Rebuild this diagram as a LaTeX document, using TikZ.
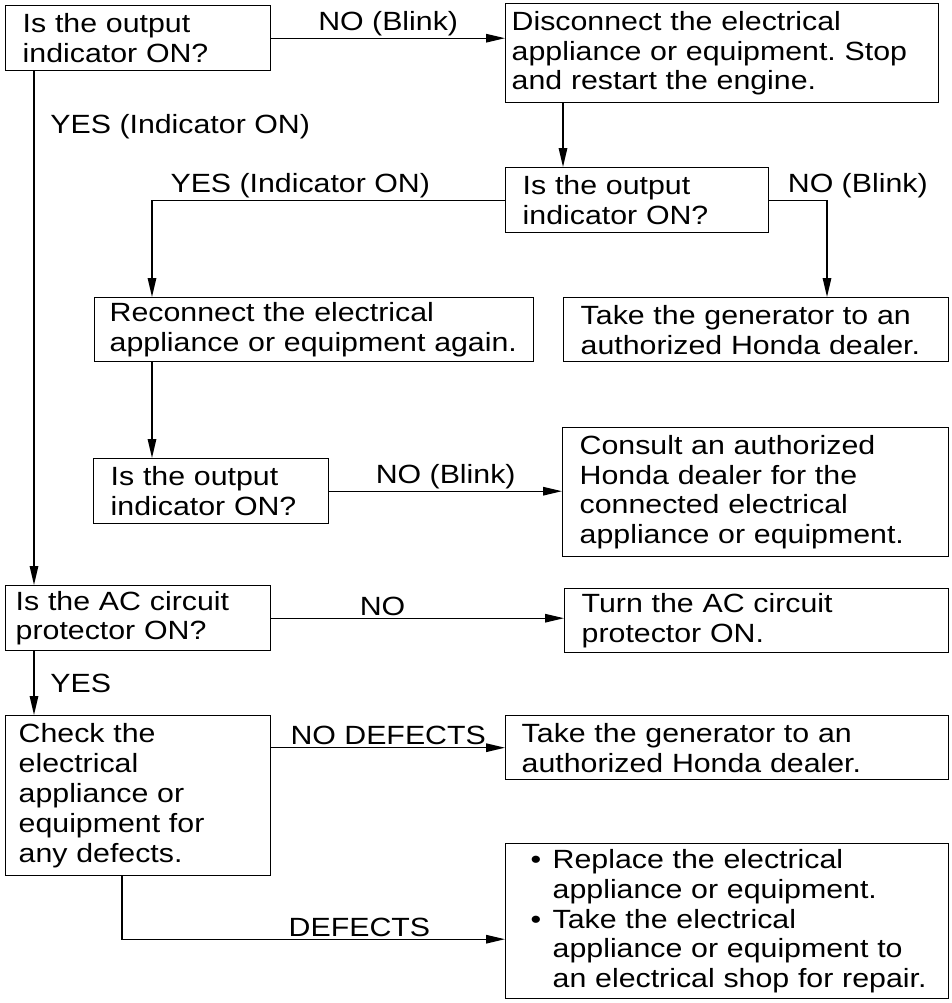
\documentclass[tikz,border=0pt]{standalone}
\usepackage{fontspec}
\setmainfont{Liberation Sans}[FakeStretch=1.15]
\usetikzlibrary{arrows.meta}
\frenchspacing

\begin{document}
\begin{tikzpicture}[scale=1,
    box/.style={draw,thick,anchor=north west,align=left,inner xsep=0.34cm,inner ysep=0pt},
    arr/.style={thick,-{Triangle[length=0.38cm,width=0.17cm]}},
    lbl/.style={inner sep=1pt},
    every node/.style={font=\fontsize{15}{17}\selectfont}]

\useasboundingbox (0,0) rectangle (19.02,-20.06);

\node[box,text width=4.62cm,minimum height=1.3cm] (q1) at (0.1,-0.1) {Is the output\\indicator ON?};
\node[box,inner xsep=0.12cm,text width=8.42cm,minimum height=1.98cm] (dis) at (10.1,-0.06) {Disconnect the electrical\\appliance or equipment. Stop\\and restart the engine.};
\node[box,text width=4.58cm,minimum height=1.3cm] (q2) at (10.1,-3.34) {Is the output\\indicator ON?};
\node[box,inner xsep=0.3cm,text width=8.18cm,minimum height=1.28cm] (rec) at (1.88,-5.94) {Reconnect the electrical\\appliance or equipment again.};
\node[box,text width=7.02cm,minimum height=1.28cm] (take1) at (11.26,-5.94) {Take the generator to an\\authorized Honda dealer.};
\node[box,text width=4.02cm,minimum height=1.3cm] (q3) at (1.86,-9.16) {Is the output\\indicator ON?};
\node[box,text width=7.04cm,minimum height=2.58cm] (cons) at (11.24,-8.54) {Consult an authorized\\Honda dealer for the\\connected electrical\\appliance or equipment.};
\node[box,inner xsep=0.2cm,text width=4.9cm,minimum height=1.3cm] (ac) at (0.1,-11.7) {Is the AC circuit\\protector ON?};
\node[box,text width=7.0cm,minimum height=1.28cm] (turn) at (11.28,-11.76) {Turn the AC circuit\\protector ON.};
\node[box,inner xsep=0.26cm,text width=4.78cm,minimum height=3.2cm] (chk) at (0.1,-14.3) {Check the\\electrical\\appliance or\\equipment for\\any defects.};
\node[box,inner xsep=0.32cm,text width=8.22cm,minimum height=1.28cm] (take2) at (10.1,-14.3) {Take the generator to an\\authorized Honda dealer.};
\node[box,inner xsep=0.2cm,text width=8.46cm,minimum height=3.1cm] (rep) at (10.1,-16.86) {\hspace*{0.3cm}\makebox[0.44cm][l]{\textbullet}Replace the electrical\\\hspace*{0.74cm}appliance or equipment.\\\hspace*{0.3cm}\makebox[0.44cm][l]{\textbullet}Take the electrical\\\hspace*{0.74cm}appliance or equipment to\\\hspace*{0.74cm}an electrical shop for repair.};

\coordinate (yes2) at ([xshift=1.16cm]rec.north west |- q2.west);
\coordinate (no2) at ([xshift=5.28cm]take1.north west |- q2.east);
\coordinate (dfx) at ([xshift=2.34cm]chk.south west);
\coordinate (dfy) at ([yshift=-0.36cm]rep.west);

\draw[arr] (q1.east) -- node[lbl,above] (l1) {NO (Blink)} (q1.east -| dis.west);
\draw[arr] ([xshift=1.16cm]dis.south west) -- ([xshift=1.16cm]dis.south west |- q2.north);
\draw[arr] (q2.west) -- node[lbl,above,pos=0.58] (l2) {YES (Indicator ON)} (yes2) -- (yes2 |- rec.north);
\draw[arr] (q2.east) -- node[lbl,anchor=south west,pos=0,xshift=0.32cm] (l3) {NO (Blink)} (no2) -- (no2 |- take1.north);
\draw[arr] ([xshift=1.16cm]rec.south west) -- ([xshift=1.16cm]rec.south west |- q3.north);
\draw[arr] (q3.east) -- node[lbl,above] (l4) {NO (Blink)} (q3.east -| cons.west);
\draw[arr] ([xshift=0.58cm]q1.south west) -- node[lbl,right,pos=0.107,xshift=0.28cm] (l5) {YES (Indicator ON)} ([xshift=0.58cm]q1.south west |- ac.north);
\draw[arr] (ac.east) -- node[lbl,above,pos=0.38] (l6) {NO} (ac.east -| turn.west);
\draw[arr] ([xshift=0.58cm]ac.south west) -- node[lbl,right,xshift=0.28cm] (l7) {YES} ([xshift=0.58cm]ac.south west |- chk.north);
\draw[arr] (take2.west -| chk.east) -- node[lbl,above] (l8) {NO DEFECTS} (take2.west);
\draw[arr] (dfx) |- node[lbl,above,pos=0.81] (l9) {DEFECTS} (dfy);
\end{tikzpicture}
\end{document}
